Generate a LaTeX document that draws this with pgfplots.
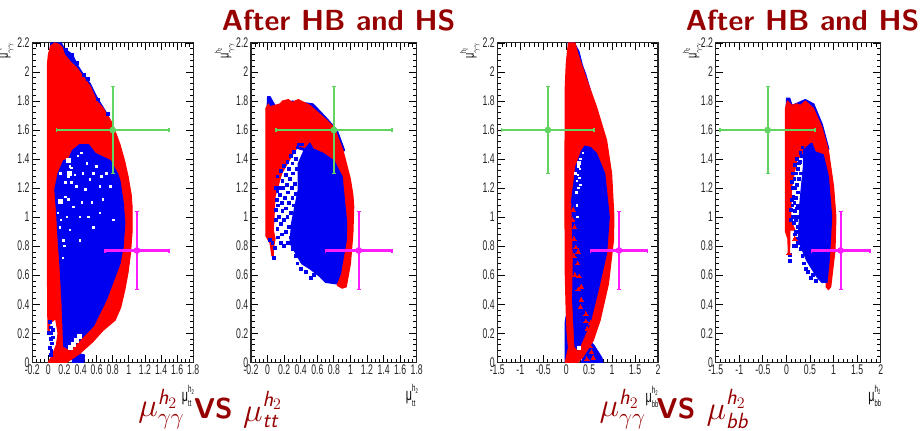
\documentclass[border=0pt]{standalone}
\usepackage{amsmath}
\usepackage{graphicx}
\usepackage{fontspec}
\usepackage{pgfplots}
\pgfplotsset{compat=1.18}
\setmainfont{Liberation Sans}
\newfontfamily\cond[FakeStretch=0.62]{Liberation Sans}
\setsansfont{Latin Modern Sans}
\definecolor{tred}{HTML}{960000}
\definecolor{pblue}{HTML}{0000F0}
\definecolor{pred}{HTML}{FF0000}
\definecolor{pgreen}{HTML}{62D462}
\definecolor{pmag}{HTML}{FF1CFF}
\newcommand{\mulab}[1]{{\cond\fontsize{13}{14}\selectfont μ\raisebox{1.0ex}{\rlap{\fontsize{7.5}{8}\selectfont h\raisebox{-.3ex}{\fontsize{5}{6}\selectfont 2}}}\raisebox{-.55ex}{\fontsize{7}{8}\selectfont #1}}}
\newcommand{\hh}{\text{\sffamily\itshape h}}
\pgfplotsset{
  panel/.style={
    scale only axis, anchor=south west, height=239.5pt,
    ymin=0, ymax=2.2,
    ytick={0,0.2,...,2.2},
    yticklabels={0,0.2,0.4,0.6,0.8,1,1.2,1.4,1.6,1.8,2,2.2},
    minor y tick num=4,
    major tick length=5.5pt, minor tick length=2.8pt,
    tick style={black, line width=0.6pt},
    axis line style={black!85, line width=0.8pt},
    tick align=inside, xtick pos=both, ytick pos=both,
    ticklabel style={font=\cond\fontsize{10.5}{12}\selectfont, text=black!85},
    xticklabel style={yshift=1.5pt},
    yticklabel style={xshift=1.5pt},
    clip=true,
  },
  narrow/.style={panel, xmin=-0.2, xmax=1.8, xtick={-0.2,0,0.2,0.4,0.6,0.8,1,1.2,1.4,1.6,1.8},
    xticklabels={-0.2,0,0.2,0.4,0.6,0.8,1,1.2,1.4,1.6,1.8}, minor x tick num=3},
  wide/.style={panel, xmin=-1.5, xmax=2, xtick={-1.5,-1,-0.5,0,0.5,1,1.5,2},
    xticklabels={-1.5,-1,-0.5,0,0.5,1,1.5,2}, minor x tick num=4},
  fb/.style={fill=pblue, draw=pblue, line width=0.8pt, line join=round},
  fr/.style={fill=pred, draw=pred, line width=0.8pt, line join=round},
  bm/.style={only marks, mark=square*, mark size=1.05pt, color=pblue, mark options={line width=0pt}},
  wm/.style={only marks, mark=square*, mark size=#1, color=white, mark options={line width=0pt}},
  wm/.default=0.55pt,
  rm/.style={only marks, mark=triangle*, mark size=1.9pt, color=pred, mark options={line width=0pt}},
  ebg/.style={only marks, color=pgreen, mark=*, mark size=2.3pt, mark options={fill=pgreen},
    error bars/.cd, x dir=both, x explicit, y dir=both, y explicit,
    error bar style={line width=1.6pt, color=pgreen}, error mark options={rotate=90, mark size=1.5pt, color=pgreen, line width=1.2pt}},
  ebm/.style={only marks, color=pmag, mark=*, mark size=2.3pt, mark options={fill=pmag},
    error bars/.cd, x dir=both, x explicit, y dir=both, y explicit,
    error bar style={line width=1.6pt, color=pmag}, error mark options={rotate=90, mark size=1.5pt, color=pmag, line width=1.2pt}},
}
\begin{document}
\begin{tikzpicture}[x=1pt,y=1pt]
\path[use as bounding box] (0,0) rectangle (691.5,322.5);

% ---------- panel 1
\begin{axis}[narrow, at={(24.2pt,50.8pt)}, width=120.75pt]
\addplot[fb] coordinates {(-0.01,2.0)(0.03,2.2)(0.16,2.2)(0.2,2.16)(0.3,2.12)(0.36,2.05)(0.45,1.97)(0.52,1.92)(0.6,1.83)(0.72,1.72)(0.8,1.63)(0.6,1.6)(0,1.6)} -- cycle;
\addplot[fb] coordinates {(0.3,0)(0.44,0)(0.45,0.05)(0.38,0.06)(0.3,0.03)} -- cycle;
\addplot[bm] coordinates {(0.02,0.28)(0.03,0.24)(0.04,0.2)(0.03,0.16)(0.05,0.13)(0.02,0.1)(0.04,0.08)(0.03,0.05)(0.06,0.22)(0.06,0.17)(0.01,0.2)(0.22,2.15)(0.29,2.12)(0.36,2.06)(0.44,1.98)(0.49,1.95)(0.62,1.81)(0.74,1.71)};
\addplot[fr] coordinates {(0,0)(0.05,0.05)(0.1,0.12)(0.12,0.2)(0.09,0.3)(0.02,0.27)(0.01,0.2)(-0.005,0.22)(-0.01,0.42)(-0.012,1.0)(-0.012,2.05)(0,2.12)(0.03,2.18)(0.08,2.2)(0.13,2.19)(0.17,2.17)(0.2,2.12)(0.29,2.06)(0.35,2.03)(0.39,2.0)(0.52,1.9)(0.6,1.8)(0.68,1.75)(0.79,1.65)(0.89,1.5)(0.95,1.38)(0.99,1.28)(1.03,1.15)(1.04,1.07)(1.04,0.9)(1.02,0.75)(0.99,0.62)(0.95,0.5)(0.9,0.38)(0.83,0.29)(0.68,0.22)(0.55,0.14)(0.39,0.06)(0.23,0)} -- cycle;
\addplot[fb] coordinates {(0.39,1.5)(0.5,1.5)(0.58,1.44)(0.77,1.39)(0.86,1.3)(0.89,1.25)(0.93,1.1)(0.95,0.96)(0.93,0.8)(0.89,0.68)(0.72,0.43)(0.56,0.25)(0.42,0.17)(0.27,0.085)(0.19,0.11)(0.17,0.4)(0.145,0.66)(0.12,0.85)(0.1,1.05)(0.08,1.19)(0.12,1.3)(0.19,1.39)(0.25,1.4)(0.3,1.46)} -- cycle;
\addplot[wm] coordinates {(0.29,1.34)(0.25,1.28)(0.29,1.24)(0.37,1.42)(0.41,1.44)(0.48,1.37)(0.6,1.35)(0.35,1.21)(0.46,1.19)(0.21,1.14)(0.31,1.07)(0.39,1)(0.23,1)(0.19,0.84)(0.64,1.21)(0.72,1.3)(0.54,1.1)(0.64,1.03)(0.81,0.98)(0.27,1.35)(0.33,1.29)(0.21,1.24)(0.12,1.03)(0.145,0.93)(0.43,1.3)(0.52,1.26)(0.77,1.21)(0.27,0.91)(0.39,0.84)(0.56,0.93)(0.68,1.12)(0.16,0.98)(0.18,0.72)(0.2,0.8)(0.25,1.12)(0.42,1.1)(0.5,1)(0.56,1.3)(0.66,1.28)(0.15,1.3)};
\addplot[wm=1.5pt] coordinates {(0.145,1.11)(0.26,1.3)(0.25,1.39)(0.31,0.125)(0.35,0.15)(0.39,0.175)(0.27,0.105)};
\addplot[ebg] coordinates {(0.8,1.6) +- (0.7,0.3)};
\addplot[ebm] coordinates {(1.1,0.77) +- (0.4,0.27)};
\end{axis}

% ---------- panel 2
\begin{axis}[narrow, at={(188.25pt,50.8pt)}, width=124.3pt]
\addplot[fb] coordinates {(-0.01,1.7)(0.0,1.83)(0.03,1.83)(0.1,1.76)(0.3,1.8)(0.55,1.78)(0.7,1.69)(0.84,1.6)(0.93,1.46)(0.8,1.4)(0.2,1.5)} -- cycle;
\addplot[fr] coordinates {(-0.02,0.87)(-0.02,1.75)(0.01,1.78)(0.03,1.76)(0.15,1.78)(0.18,1.8)(0.25,1.81)(0.3,1.79)(0.37,1.81)(0.51,1.77)(0.67,1.69)(0.8,1.62)(0.91,1.46)(0.96,1.35)(1,1.26)(1.03,1.15)(1.04,1.07)(1.03,0.89)(1,0.68)(0.95,0.52)(0.9,0.51)(0.84,0.53)(0.88,0.8)(0.8,1.2)(0.6,1.45)(0.45,1.48)(0.37,1.49)(0.29,1.42)(0.17,1.3)(0.09,1.14)(0.07,0.91)(0.09,0.85)(0.07,0.78)(0.07,0.71)(0.05,0.74)(0.03,0.82)} -- cycle;
\addplot[fb] coordinates {(0.51,1.51)(0.44,1.46)(0.37,1.37)(0.37,1.19)(0.29,0.96)(0.27,0.82)(0.41,0.68)(0.52,0.64)(0.63,0.59)(0.7,0.55)(0.83,0.54)(0.88,0.61)(0.95,0.84)(0.955,0.96)(0.9,1.28)(0.8,1.39)(0.67,1.44)(0.55,1.47)} -- cycle;
\addplot[bm] coordinates {(0.12,1.28)(0.16,1.32)(0.2,1.35)(0.24,1.38)(0.28,1.42)(0.32,1.45)(0.36,1.48)(0.14,1.2)(0.18,1.25)(0.22,1.29)(0.26,1.33)(0.3,1.37)(0.34,1.4)(0.11,1.12)(0.15,1.15)(0.19,1.2)(0.23,1.22)(0.27,1.26)(0.31,1.3)(0.35,1.33)(0.1,1.05)(0.13,1.08)(0.17,1.1)(0.21,1.13)(0.25,1.17)(0.29,1.2)(0.33,1.23)(0.1,0.98)(0.14,1)(0.18,1.04)(0.22,1.06)(0.26,1.1)(0.3,1.13)(0.34,1.16)(0.12,0.92)(0.16,0.95)(0.2,0.98)(0.24,1)(0.28,1.03)(0.32,1.08)(0.13,0.86)(0.17,0.88)(0.22,0.9)(0.26,0.93)(0.28,0.86)(0.16,0.82)(0.2,0.8)(0.25,0.82)(0.3,0.78)(0.34,0.73)(0.36,0.68)(0.4,0.64)(0.46,0.62)(0.52,0.58)(0.56,0.6)(0.085,0.79)(0.08,0.72)(0.06,0.82)(0.03,0.84)(0.38,1.5)(0.42,1.5)(0.12,1.18)(0.1,1.2)};
\addplot[ebg] coordinates {(0.8,1.6) +- (0.7,0.3)};
\addplot[ebm] coordinates {(1.1,0.77) +- (0.4,0.27)};
\end{axis}

% ---------- panel 3
\begin{axis}[wide, at={(373pt,50.8pt)}, width=120.5pt]
\addplot[fb] coordinates {(0.04,2.2)(0.18,2.2)(0.28,2.14)(0.35,2.05)(0.43,1.98)(0.55,1.85)(0.66,1.7)(0.3,1.7)} -- cycle;
\addplot[fb] coordinates {(-0.02,0)(-0.02,0.28)(0,0.32)(0.08,0.1)(0.08,0)} -- cycle;
\addplot[fb] coordinates {(0.33,0)(0.8,0)(0.78,0.03)(0.6,0.12)(0.5,0.15)} -- cycle;
\addplot[fr] coordinates {(-0.02,0)(0.05,0.1)(0.02,0.2)(0,0.35)(-0.02,0.6)(-0.03,1.2)(-0.02,1.9)(0,2.05)(0.03,2.15)(0.05,2.2)(0.19,2.2)(0.26,2.12)(0.41,1.98)(0.66,1.76)(0.88,1.53)(0.99,1.3)(1.04,1)(1.03,0.84)(0.92,0.54)(0.74,0.29)(0.59,0.15)(0.37,0.04)(0.26,0)} -- cycle;
\addplot[fb] coordinates {(0.41,1.49)(0.53,1.48)(0.66,1.44)(0.84,1.3)(0.94,1)(0.88,0.75)(0.7,0.5)(0.52,0.27)(0.26,0.085)(0.19,0.11)(0.14,0.43)(0.155,0.7)(0.12,1.12)(0.21,1.35)(0.34,1.46)} -- cycle;
\addplot[wm] coordinates {(0.27,1.35)(0.3,1.33)(0.29,1.27)(0.31,1.22)(0.24,1.25)(0.27,1.2)(0.22,1.17)(0.37,1.44)(0.24,1.08)(0.25,1)(0.31,1.4)(0.2,1.3)(0.26,1.29)};
\addplot[wm=1.1pt] coordinates {(0.28,1.37)(0.27,0.1)};
\addplot[rm] coordinates {(0.18,0.93)(0.17,0.85)(0.21,0.79)(0.26,0.76)(0.17,0.73)(0.25,0.68)(0.19,0.6)(0.28,0.59)(0.26,0.5)(0.33,0.52)(0.33,0.43)(0.31,0.38)(0.43,0.33)(0.43,0.28)(0.46,0.23)(0.53,0.27)(0.15,1.05)(0.14,0.98)(0.52,0.11)(0.59,0.03)(0.55,0.07)(0.45,0.02)};
\addplot[ebg] coordinates {(-0.4,1.6) +- (1.01,0.3)};
\addplot[ebm] coordinates {(1.15,0.77) +- (0.62,0.27)};
\end{axis}

% ---------- panel 4
\begin{axis}[wide, at={(536.8pt,50.8pt)}, width=123.75pt]
\addplot[fb] coordinates {(-0.01,1.7)(0.0,1.82)(0.07,1.82)(0.12,1.77)(0.4,1.81)(0.58,1.78)(0.76,1.64)(0.9,1.47)(0.7,1.4)(0.2,1.5)} -- cycle;
\addplot[fr] coordinates {(-0.02,0.9)(-0.02,1.75)(0.02,1.8)(0.11,1.77)(0.22,1.78)(0.3,1.77)(0.4,1.8)(0.57,1.75)(0.75,1.62)(0.89,1.46)(1,1.21)(1.05,1)(1.03,0.77)(0.94,0.52)(0.89,0.5)(0.84,0.52)(0.88,0.8)(0.8,1.2)(0.6,1.45)(0.45,1.49)(0.22,1.39)(0.11,1.21)(0.09,1)(0.13,0.95)(0.18,0.91)(0.07,0.91)(0.07,0.8)(0.06,0.73)(0.04,0.74)(0.03,0.85)} -- cycle;
\addplot[fb] coordinates {(0.49,1.5)(0.36,1.46)(0.36,1.35)(0.29,1.12)(0.25,0.84)(0.43,0.7)(0.64,0.59)(0.75,0.55)(0.86,0.55)(0.91,0.71)(0.96,1)(0.89,1.28)(0.78,1.43)(0.61,1.45)(0.54,1.51)} -- cycle;
\addplot[bm] coordinates {(0.11,1.24)(0.14,1.3)(0.18,1.36)(0.22,1.4)(0.26,1.37)(0.3,1.44)(0.34,1.48)(0.13,1.2)(0.17,1.26)(0.21,1.3)(0.25,1.33)(0.29,1.38)(0.32,1.42)(0.11,1.12)(0.15,1.14)(0.19,1.2)(0.23,1.22)(0.27,1.26)(0.31,1.3)(0.1,1.05)(0.13,1.08)(0.17,1.1)(0.21,1.13)(0.25,1.17)(0.1,0.98)(0.14,1)(0.18,1.04)(0.22,1.06)(0.25,1.08)(0.16,0.96)(0.2,0.98)(0.23,1)(0.2,0.9)(0.24,0.93)(0.22,0.85)(0.18,0.88)(0.16,0.8)(0.2,0.8)(0.25,0.82)(0.3,0.78)(0.34,0.73)(0.38,0.68)(0.42,0.64)(0.46,0.62)(0.52,0.58)(0.56,0.6)(0.62,0.56)(0.08,0.7)(0.08,0.74)};
\addplot[rm] coordinates {(0.18,0.85)(0.05,0.75)};
\addplot[ebg] coordinates {(-0.4,1.6) +- (1.01,0.3)};
\addplot[ebm] coordinates {(1.15,0.77) +- (0.62,0.27)};
\end{axis}

% ---------- y axis labels
\node[rotate=90, anchor=south east, inner sep=0pt] at (10.5,290.5) {\scalebox{0.85}{\mulab{$\gamma\gamma$}}};
\node[rotate=90, anchor=south east, inner sep=0pt] at (176,290.5) {\scalebox{0.85}{\mulab{$\gamma\gamma$}}};
\node[rotate=90, anchor=south east, inner sep=0pt] at (360,290.5) {\scalebox{0.85}{\mulab{$\gamma\gamma$}}};
\node[rotate=90, anchor=south east, inner sep=0pt] at (527,290.5) {\scalebox{0.85}{\mulab{$\gamma\gamma$}}};
% ---------- x axis labels
\node[anchor=center, inner sep=0pt] at (140,25.5) {\mulab{tt}};
\node[anchor=center, inner sep=0pt] at (308,26) {\mulab{tt}};
\node[anchor=center, inner sep=0pt] at (489,24.8) {\mulab{bb}};
\node[anchor=center, inner sep=0pt] at (656,25.5) {\mulab{bb}};
% ---------- titles
\node[anchor=center, inner sep=0pt, text=tred] at (254,307.5) {\sffamily\bfseries\fontsize{21.8}{24}\selectfont After HB and HS};
\node[anchor=center, inner sep=0pt, text=tred] at (602,307.5) {\sffamily\bfseries\fontsize{21.8}{24}\selectfont After HB and HS};
% ---------- bottom captions
\node[anchor=center, inner sep=0pt, text=tred] at (121,15.5) {\fontsize{23.5}{26}\selectfont $\mu^{\hh_2}_{\gamma\gamma}$};
\node[anchor=center, inner sep=0pt, text=tred] at (160,16) {\sffamily\bfseries\fontsize{21.5}{24}\selectfont VS};
\node[anchor=center, inner sep=0pt, text=tred] at (197,15.5) {\fontsize{23.5}{26}\selectfont $\mu^{\hh_2}_{\text{\sffamily\itshape tt}}$};
\node[anchor=center, inner sep=0pt, text=tred] at (467,15.5) {\fontsize{23.5}{26}\selectfont $\mu^{\hh_2}_{\gamma\gamma}$};
\node[anchor=center, inner sep=0pt, text=tred] at (507,16) {\sffamily\bfseries\fontsize{21.5}{24}\selectfont VS};
\node[anchor=center, inner sep=0pt, text=tred] at (545.5,15.5) {\fontsize{23.5}{26}\selectfont $\mu^{\hh_2}_{\text{\sffamily\itshape bb}}$};
\end{tikzpicture}
\end{document}
